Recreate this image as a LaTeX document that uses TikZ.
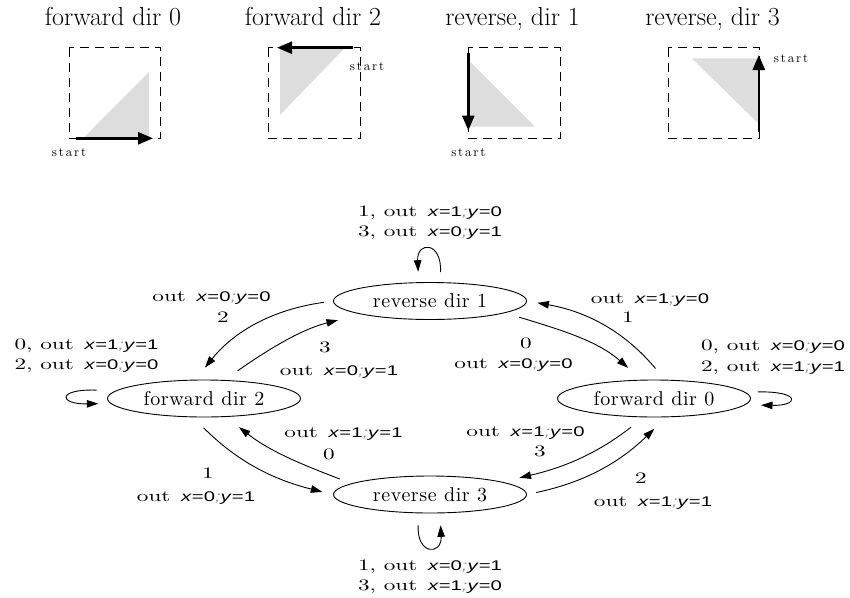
\documentclass[tikz,border=0pt]{standalone}
\usepackage{fontspec}
\usetikzlibrary{arrows.meta,shapes.geometric}
\newfontfamily\nodefont{lmroman10-regular.otf}[LetterSpace=3]
\newfontfamily\lserif{lmroman10-regular.otf}[FakeStretch=1.45]
\newfontfamily\lsans{Liberation Sans}[FakeStretch=1.45]
\newfontfamily\startfont{lmroman10-regular.otf}[LetterSpace=14]
\definecolor{trigray}{RGB}{221,221,221}
\definecolor{semi}{RGB}{150,150,150}
\newcommand\lblxy[2]{{\lsans\fontsize{14}{16}\selectfont\textit{x}=#1\textcolor{semi}{\textit{;}}\textit{y}=#2}}
\begin{document}
\begin{tikzpicture}[x=1pt,y=1pt,
  st/.style={draw, ellipse, minimum width=193pt, minimum height=37pt, inner sep=0pt,
             line width=0.9pt, font=\nodefont\fontsize{20}{24}\selectfont},
  ed/.style={-{Triangle[length=11.5pt,width=7.5pt]}, line width=0.9pt},
  lbl/.style={anchor=base, inner sep=0pt, font=\lserif\fontsize{16}{19}\selectfont},
  ttl/.style={anchor=base, inner sep=0pt, font=\fontsize{26}{30}\selectfont},
  startlbl/.style={anchor=base, inner sep=0pt, font=\startfont\fontsize{13}{15}\selectfont},
  dbox/.style={draw, dash pattern=on 9pt off 6pt, line width=1pt},
  trifill/.style={fill=trigray},
  bigarrow/.style={-{Triangle[length=15pt,width=12pt]}, line width=2.6pt}]
\useasboundingbox (0,0) rectangle (850,-597);

% ---------- top panels ----------
\node[ttl] (t0) at (113,-25) {forward dir 0};
\node[ttl] (t2) at (313,-25) {forward dir 2};
\node[ttl] (t1) at (512.5,-25) {reverse, dir 1};
\node[ttl] (t3) at (712.5,-25) {reverse, dir 3};

% panel 1
\fill[trifill] (83,-138.3) -- (149,-138.3) -- (149,-72) -- cycle;
\draw[dbox] (69,-47.7) rectangle (160.7,-138.3);
\coordinate (p0s) at (76,-138.3);
\coordinate (p0e) at (153,-138.3);
\draw[bigarrow] (p0s) -- (p0e);
\node[startlbl] (s0) at (69,-156) {start};

% panel 2
\fill[trifill] (280,-47.7) -- (345,-47.7) -- (280,-115) -- cycle;
\draw[dbox] (268.3,-47.7) rectangle (360,-138.3);
\coordinate (p2s) at (353,-47.7);
\coordinate (p2e) at (277,-47.7);
\draw[bigarrow] (p2s) -- (p2e);
\node[startlbl] (s2) at (367,-70) {start};

% panel 3
\fill[trifill] (470,-61.7) -- (470,-126.7) -- (535,-126.7) -- cycle;
\draw[dbox] (468.3,-47.7) rectangle (560,-138.3);
\coordinate (p1s) at (468.3,-53);
\coordinate (p1e) at (468.3,-130.5);
\draw[bigarrow] (p1s) -- (p1e);
\node[startlbl] (s1) at (468.3,-156) {start};

% panel 4
\fill[trifill] (691.7,-58.3) -- (758.3,-58.3) -- (758.3,-123.3) -- cycle;
\draw[dbox] (668.3,-47.7) rectangle (759.3,-138.3);
\coordinate (p3s) at (758.8,-131.7);
\coordinate (p3e) at (758.8,-55);
\draw[bigarrow] (p3s) -- (p3e);
\node[startlbl] (s3) at (791,-62.3) {start};

% ---------- state graph ----------
\node[st] (r1) at (430,-301) {reverse dir 1};
\node[st] (f2) at (204,-398.5) {forward dir 2};
\node[st] (f0) at (654,-398.5) {forward dir 0};
\node[st] (r3) at (430,-494.5) {reverse dir 3};

\draw[ed, shorten <=9pt, shorten >=15.5pt] (r1.west) to[out=188, in=51] (f2.115);
\draw[ed, shorten <=16pt, shorten >=24pt] (f2.42) to[out=35, in=194] (r1.191);
\draw[ed, shorten <=14.5pt, shorten >=18pt] (r1.351) to[out=343, in=139] (f0.123);
\draw[ed, shorten <=14.6pt, shorten >=10.6pt] (f0.60) to[out=130, in=350] (r1.east);
\draw[ed, shorten <=14.7pt, shorten >=11pt] (f2.240) to[out=315, in=166] (r3.west);
\draw[ed, shorten <=12.4pt, shorten >=16.5pt] (r3.172) to[out=159, in=322] (f2.320);
\draw[ed, shorten <=16pt, shorten >=18pt] (f0.241) to[out=218, in=13] (r3.10);
\draw[ed, shorten <=9.5pt, shorten >=16.5pt] (r3.east) to[out=12, in=224] (f0.303);

% self loops
\draw[ed, shorten <=10pt, shorten >=10.5pt] (r1.62) .. controls +(2,41) and +(-2,41) .. (r1.121);
\draw[ed, shorten <=12pt, shorten >=12pt] (r3.239) .. controls +(-2,-42) and +(2,-42) .. (r3.298);
\draw[ed, shorten <=19pt, shorten >=12pt] (f2.175) .. controls +(-59,2) and +(-52,-1) .. (f2.183);
\draw[ed, shorten <=12.7pt, shorten >=15.7pt] (f0.4) .. controls +(56,1) and +(54,-1) .. (f0.356);

% labels
\node[lbl] (lr1a) at (430,-216) {1, out \hspace{3pt}\lblxy{1}{0}};
\node[lbl] (lr1b) at (430,-236.7) {3, out \hspace{3pt}\lblxy{0}{1}};
\node[lbl] (le1a) at (211.5,-301) {out \hspace{3pt}\lblxy{0}{0}};
\node[lbl] (le1b) at (223,-322.7) {2};
\node[lbl] (lf2a) at (86.5,-349) {0, out \hspace{3pt}\lblxy{1}{1}};
\node[lbl] (lf2b) at (86.5,-369) {2, out \hspace{3pt}\lblxy{0}{0}};
\node[lbl] (le2a) at (325,-352.7) {3};
\node[lbl] (le2b) at (339,-375) {out \hspace{3pt}\lblxy{0}{1}};
\node[lbl] (le4a) at (650,-303) {out \hspace{3pt}\lblxy{1}{0}};
\node[lbl] (le4b) at (628,-322.7) {1};
\node[lbl] (le3a) at (526,-348) {0};
\node[lbl] (le3b) at (513.5,-368) {out \hspace{3pt}\lblxy{0}{0}};
\node[lbl] (lf0a) at (773,-350.5) {0, out \hspace{3pt}\lblxy{0}{0}};
\node[lbl] (lf0b) at (773,-371) {2, out \hspace{3pt}\lblxy{1}{1}};
\node[lbl] (le6a) at (343.5,-437.3) {out \hspace{3pt}\lblxy{1}{1}};
\node[lbl] (le6b) at (329,-459.3) {0};
\node[lbl] (le5a) at (208,-478.3) {1};
\node[lbl] (le5b) at (196,-501.7) {out \hspace{3pt}\lblxy{0}{1}};
\node[lbl] (le7a) at (525.5,-436.7) {out \hspace{3pt}\lblxy{1}{0}};
\node[lbl] (le7b) at (540,-456.7) {3};
\node[lbl] (le8a) at (641,-483.3) {2};
\node[lbl] (le8b) at (653,-506) {out \hspace{3pt}\lblxy{1}{1}};
\node[lbl] (lr3a) at (430,-570) {1, out \hspace{3pt}\lblxy{0}{1}};
\node[lbl] (lr3b) at (430,-590) {3, out \hspace{3pt}\lblxy{1}{0}};
\end{tikzpicture}
\end{document}
